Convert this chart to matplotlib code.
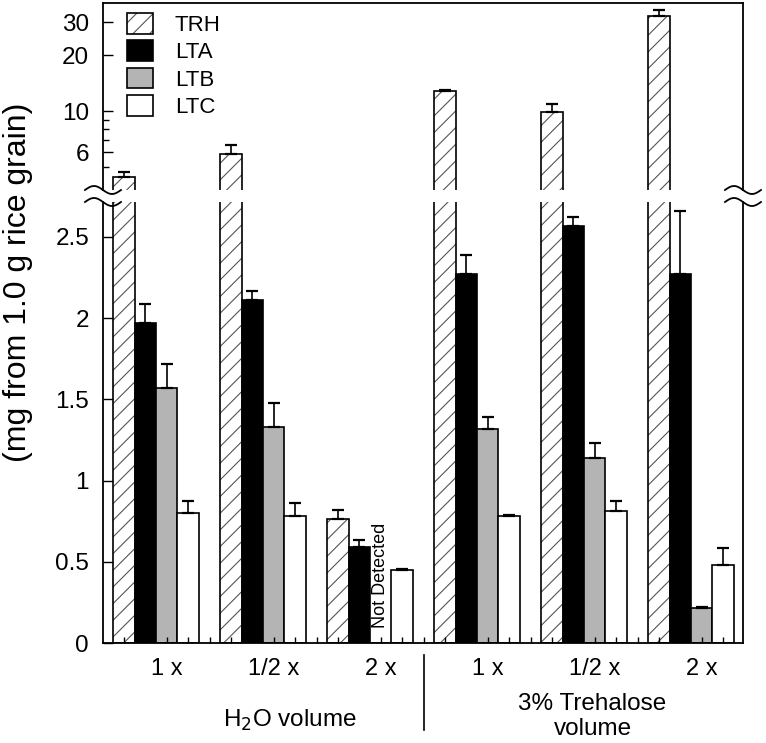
import numpy as np
import matplotlib
matplotlib.use('Agg')
import matplotlib.pyplot as plt
from matplotlib.lines import Line2D
from matplotlib.transforms import blended_transform_factory

plt.rcParams['font.family'] = ['Liberation Sans', 'DejaVu Sans']
plt.rcParams['hatch.linewidth'] = 0.8

# data
groups = ['1 x', '1/2 x', '2 x', '1 x', '1/2 x', '2 x']
series = ['TRH', 'LTA', 'LTB', 'LTC']
volume_labels = ['H$_2$O volume', '3% Trehalose\nvolume']

trh = [4.42, 5.9, 0.765, 12.8, 9.9, 32.4]
trh_err = [0.28, 0.65, 0.055, 0.25, 1.0, 2.5]
lta = [1.97, 2.11, 0.59, 2.27, 2.57, 2.27]
lta_err = [0.12, 0.06, 0.045, 0.12, 0.05, 0.39]
ltb = [1.57, 1.33, 0.0, 1.32, 1.14, 0.215]
ltb_err = [0.15, 0.15, 0.0, 0.07, 0.09, 0.005]
ltc = [0.80, 0.78, 0.45, 0.78, 0.81, 0.48]
ltc_err = [0.075, 0.08, 0.005, 0.007, 0.065, 0.105]

W, H = 766, 743
fig = plt.figure(figsize=(W / 100, H / 100), dpi=100)
ax_lo = fig.add_axes([103 / W, (H - 643) / H, 640 / W, 441 / H])
ax_hi = fig.add_axes([103 / W, (H - 190) / H, 640 / W, 187 / H], sharex=ax_lo)
ax_hi.set_yscale('log')

gx = np.arange(len(groups)) * 5  # 4 bars + 1 empty slot per group
err_kw = dict(fmt='none', ecolor='black', elinewidth=1.2, capsize=4, capthick=1.6)


def up_err(vals, errs):
    vals = np.array(vals, dtype=float)
    y = np.where(vals > 0, vals, np.nan)
    return y, [np.zeros(len(errs)), errs]


# TRH in both axes
for ax, base in ((ax_lo, 0), (ax_hi, 1)):
    h = np.array(trh) - base
    b_hatch = ax.bar(gx, h, 1.0, bottom=base, color='white', edgecolor='#555555',
                     hatch='//', linewidth=0)
    b_edge = ax.bar(gx, h, 1.0, bottom=base, facecolor='none', edgecolor='black',
                    linewidth=1.2)
    y, e = up_err(trh, trh_err)
    ax.errorbar(gx, y, yerr=e, **err_kw)

b_lta = ax_lo.bar(gx + 1, lta, 1.0, color='black', edgecolor='black', linewidth=1.2)
b_ltb = ax_lo.bar(gx + 2, ltb, 1.0, color='#b4b4b4', edgecolor='black', linewidth=1.2)
b_ltc = ax_lo.bar(gx + 3, ltc, 1.0, color='white', edgecolor='black', linewidth=1.2)
for off, vals, errs in ((1, lta, lta_err), (2, ltb, ltb_err), (3, ltc, ltc_err)):
    y, e = up_err(vals, errs)
    ax_lo.errorbar(gx + off, y, yerr=e, **err_kw)

ax_lo.text(gx[2] + 2, 0.09, 'Not Detected', rotation=90, ha='center', va='bottom',
           fontsize=13)

# axes limits and spines
ax_lo.set_xlim(-0.98, 28.93)
ax_lo.set_ylim(0, 2.715)
ax_hi.set_ylim(3.76, 38.1)
ax_lo.spines['top'].set_visible(False)
ax_hi.spines['bottom'].set_visible(False)
for ax in (ax_lo, ax_hi):
    for sp in ax.spines.values():
        sp.set_linewidth(1.3)

# ticks
ax_lo.set_xticks(gx + 2, groups)
ax_lo.set_xticks(np.arange(29), minor=True)
ax_lo.tick_params(axis='x', which='both', direction='in', length=4, width=1,
                  labelsize=17, pad=11, top=False)
ax_hi.tick_params(axis='x', which='both', bottom=False, top=False, labelbottom=False)

yt = [0, 0.5, 1, 1.5, 2, 2.5]
ax_lo.set_yticks(yt, ['0', '0.5', '1', '1.5', '2', '2.5'])
ax_lo.tick_params(axis='y', direction='in', length=7, width=1, labelsize=17.5,
                  pad=10, right=False)

ax_hi.set_yticks([6, 10, 20, 30], ['6', '10', '20', '30'])
ax_hi.set_yticks([5, 7, 8, 9], minor=True)
ax_hi.yaxis.set_minor_formatter(plt.NullFormatter())
ax_hi.tick_params(axis='y', which='major', direction='in', length=7, width=1,
                  labelsize=17.5, pad=10, right=False)
ax_hi.tick_params(axis='y', which='minor', direction='in', length=4, width=1,
                  right=False)

# legend
ax_hi.legend([(b_hatch, b_edge), b_lta, b_ltb, b_ltc], series, loc='upper left',
             bbox_to_anchor=(24 / 640, 1 - 10 / 187), frameon=False, fontsize=16,
             handlelength=1.15, handleheight=1.05, handletextpad=1.0,
             labelspacing=0.2, borderpad=0, borderaxespad=0)

# group labels and separator
trans = blended_transform_factory(ax_lo.transData, ax_lo.transAxes)
ax_lo.text(7.75, -0.175, volume_labels[0], transform=trans, ha='center', va='center',
           fontsize=17.5)
ax_lo.text(21.9, -0.167, volume_labels[1], transform=trans, ha='center', va='center',
           fontsize=17.5, linespacing=1.2)
sep = gx[2] + 4
ax_lo.plot([sep, sep], [-0.027, -0.197], transform=trans, color='black', lw=1.2,
           clip_on=False)

# y label
fig.text(18 / W, 1 - 282 / H, '(mg from 1.0 g rice grain)', rotation=90,
         ha='center', va='center', fontsize=23)

# axis break marks
t = np.linspace(-1, 1, 60)
for xc in (ax_lo.get_position().x0, ax_lo.get_position().x1):
    for yc in (ax_hi.get_position().y0, ax_lo.get_position().y1):
        fig.add_artist(Line2D(xc + t * 18 / W, yc - 4 / H * np.sin(np.pi * t),
                              transform=fig.transFigure, color='black', lw=1.3))

fig.savefig('out.png', dpi=100)
